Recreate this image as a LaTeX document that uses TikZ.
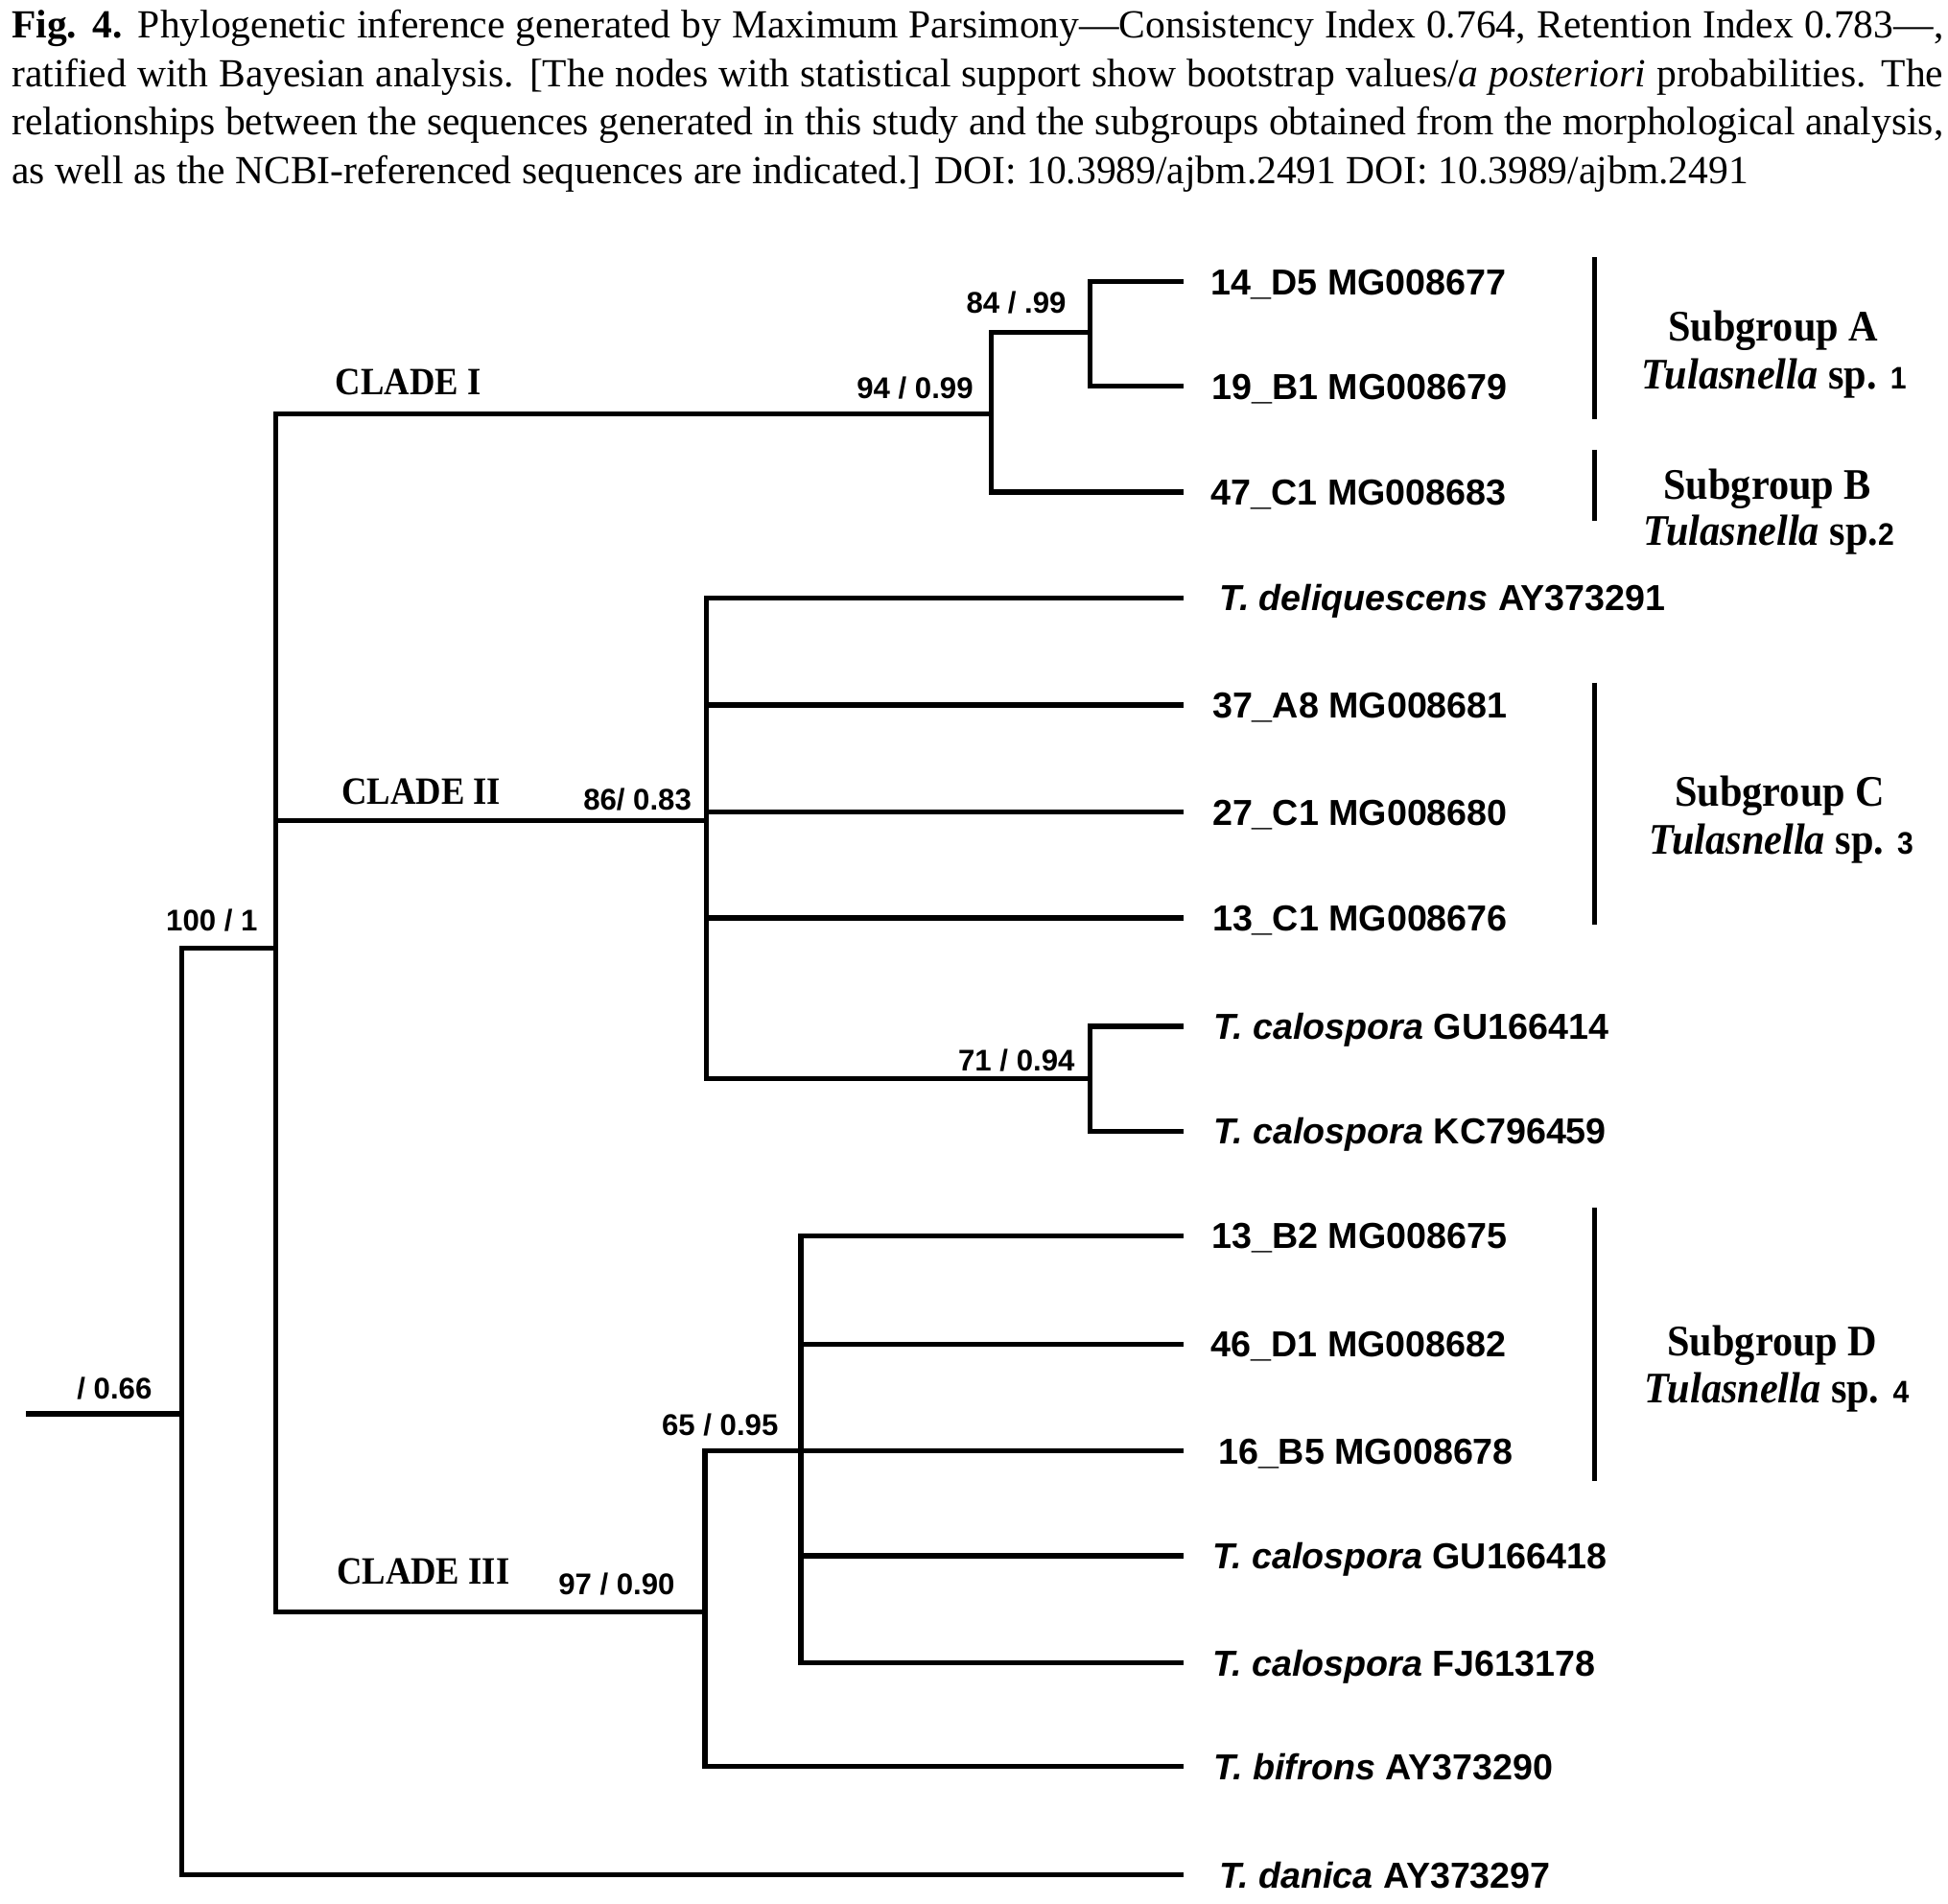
\documentclass[tikz,border=0pt]{standalone}
\usepackage{fontspec}
\usepackage{graphicx}
\setmainfont{Liberation Serif}
\newfontfamily\lsans{Liberation Sans}
\begin{document}
\begin{tikzpicture}[x=0.5pt,y=-0.5pt,
  tree/.style={line width=2pt, line cap=rect, line join=miter},
  bar/.style={line width=1.8pt},
  leaf/.style={anchor=base west, inner sep=0pt, font=\lsans\bfseries\fontsize{14.5}{14.5}\selectfont},
  supp/.style={anchor=base west, inner sep=0pt, font=\lsans\bfseries\fontsize{12}{12}\selectfont},
  clade/.style={anchor=base west, inner sep=0pt, font=\bfseries\fontsize{15.5}{15.5}\selectfont},
  subg/.style={anchor=base, inner sep=0pt, font=\bfseries\fontsize{17.5}{17.5}\selectfont},
  capline/.style={anchor=base west, inner sep=0pt, font=\fontsize{16}{16}\selectfont}]
\useasboundingbox[fill=white] (0,0) rectangle (1564,1528);

% caption
\node[capline] (cap1) at (9,30.5) {\makebox[775.5pt][s]{\textbf{Fig. 4.} Phylogenetic inference generated by Maximum Parsimony—Consistency Index 0.764, Retention Index 0.783—,}};
\node[capline] (cap2) at (9,69.5) {\makebox[775.5pt][s]{ratified with Bayesian analysis. [The nodes with statistical support show bootstrap values/\textit{a posteriori} probabilities. The}};
\node[capline] (cap3) at (9,108.5) {\makebox[775.5pt][s]{relationships between the sequences generated in this study and the subgroups obtained from the morphological analysis,}};
\node[capline] (cap4) at (9,147.5) {as well as the NCBI-referenced sequences are indicated.] DOI: 10.3989/ajbm.2491 DOI: 10.3989/ajbm.2491};

% internal nodes
\coordinate (root) at (23,1135);
\coordinate (nR) at (146,1135);
\coordinate (n100) at (221.5,761);
\coordinate (nC1) at (796,332);
\coordinate (n84) at (875,267);
\coordinate (nC2) at (567,659);
\coordinate (n71) at (875,866);
\coordinate (nC3) at (566,1294);
\coordinate (n65) at (643,1165);
% leaf ends
\coordinate (eD5) at (948,226);
\coordinate (eB1) at (948,310);
\coordinate (eC47) at (948,395);
\coordinate (eDel) at (948,480);
\coordinate (eA8) at (948,566);
\coordinate (eC27) at (948,652);
\coordinate (eC13) at (948,737);
\coordinate (eGU14) at (948,824);
\coordinate (eKC) at (948,908);
\coordinate (eB2) at (948,992);
\coordinate (eD1) at (948,1079);
\coordinate (eB5) at (948,1165);
\coordinate (eGU18) at (948,1249);
\coordinate (eFJ) at (948,1335);
\coordinate (eBif) at (948,1418);
\coordinate (eDan) at (948,1505);

% branches
\draw[tree] (root) -- (nR);
\draw[tree] (n100) -| (nR) |- (eDan);
\draw[tree] (nC1) -| (n100) |- (nC3);
\draw[tree] (n100 |- nC2) -- (nC2);
\draw[tree] (n84) -| (nC1) |- (eC47);
\draw[tree] (eD5) -| (n84) |- (eB1);
\draw[tree] (eDel) -| (nC2) |- (n71);
\draw[tree] (nC2 |- eA8) -- (eA8);
\draw[tree] (nC2 |- eC27) -- (eC27);
\draw[tree] (nC2 |- eC13) -- (eC13);
\draw[tree] (eGU14) -| (n71) |- (eKC);
\draw[tree] (n65) -| (nC3) |- (eBif);
\draw[tree] (eB2) -| (n65) |- (eFJ);
\draw[tree] (n65) -- (eB5);
\draw[tree] (n65 |- eD1) -- (eD1);
\draw[tree] (n65 |- eGU18) -- (eGU18);

% leaf labels
\node[leaf] (lD5) at (972,236.5) {14\_D5 MG008677};
\node[leaf] (lB1) at (972.5,320.5) {19\_B1 MG008679};
\node[leaf] (lC47) at (972,405.5) {47\_C1 MG008683};
\node[leaf] (lDel) at (979,490.5) {\itshape T. deliquescens \upshape AY373291};
\node[leaf] (lA8) at (973,576.5) {37\_A8 MG008681};
\node[leaf] (lC27) at (973,662.5) {27\_C1 MG008680};
\node[leaf] (lC13) at (973,747.5) {13\_C1 MG008676};
\node[leaf] (lGU14) at (974,834.5) {\itshape T. calospora \upshape GU166414};
\node[leaf] (lKC) at (974,918.5) {\itshape T. calospora \upshape KC796459};
\node[leaf] (lB2) at (972.5,1002.5) {13\_B2 MG008675};
\node[leaf] (lD1) at (972,1089.5) {46\_D1 MG008682};
\node[leaf] (lB5) at (977.7,1175.5) {16\_B5 MG008678};
\node[leaf] (lGU18) at (973,1259.5) {\itshape T. calospora \upshape GU166418};
\node[leaf] (lFJ) at (973,1345.5) {\itshape T. calospora \upshape FJ613178};
\node[leaf] (lBif) at (974,1428.5) {\itshape T. bifrons \upshape AY373290};
\node[leaf] (lDan) at (978.6,1515.5) {\itshape T. danica \upshape AY373297};

% support values
\node[supp] (s84) at (775.5,251.6) {84 / .99};
\node[supp] (s94) at (687.5,320) {94 / 0.99};
\node[supp] (s100) at (133,747.5) {100 / 1};
\node[supp] (s86) at (468,650) {86/ 0.83};
\node[supp] (s71) at (769,860) {71 / 0.94};
\node[supp] (s97) at (448,1280) {97 / 0.90};
\node[supp] (s65) at (531,1152) {65 / 0.95};
\node[supp] (s66) at (61.5,1123.5) {/ 0.66};

% clade labels
\node[clade] (cl1) at (269,317) {\scalebox{0.91}[1]{CLADE I}};
\node[clade] (cl2) at (274,646) {\scalebox{0.91}[1]{CLADE II}};
\node[clade] (cl3) at (270,1272) {\scalebox{0.91}[1]{CLADE III}};

% subgroup bars
\coordinate (bA1) at (1280,206.5); \coordinate (bA2) at (1280,336.6);
\coordinate (bB1) at (1280,361); \coordinate (bB2) at (1280,418);
\coordinate (bC1) at (1280,548); \coordinate (bC2) at (1280,742);
\coordinate (bD1) at (1280,969.5); \coordinate (bD2) at (1280,1189);
\draw[bar] (bA1) -- (bA2);
\draw[bar] (bB1) -- (bB2);
\draw[bar] (bC1) -- (bC2);
\draw[bar] (bD1) -- (bD2);

% subgroup labels
\node[subg] (gA) at (1423.6,273.5) {\scalebox{0.93}[1]{Subgroup A}};
\node[subg] (tA) at (1424.3,312) {\scalebox{0.93}[1]{\textit{Tulasnella} sp. {\lsans\fontsize{12.5}{12.5}\selectfont 1}}};
\node[subg] (gB) at (1419,400.5) {\scalebox{0.93}[1]{Subgroup B}};
\node[subg] (tB) at (1420,437.5) {\scalebox{0.93}[1]{\textit{Tulasnella} sp.{\lsans\fontsize{12.5}{12.5}\selectfont 2}}};
\node[subg] (gC) at (1429,647) {\scalebox{0.93}[1]{Subgroup C}};
\node[subg] (tC) at (1430,686) {\scalebox{0.93}[1]{\textit{Tulasnella} sp. {\lsans\fontsize{12.5}{12.5}\selectfont 3}}};
\node[subg] (gD) at (1423,1088.5) {\scalebox{0.93}[1]{Subgroup D}};
\node[subg] (tD) at (1426.5,1126) {\scalebox{0.93}[1]{\textit{Tulasnella} sp. {\lsans\fontsize{12.5}{12.5}\selectfont 4}}};
\end{tikzpicture}
\end{document}
